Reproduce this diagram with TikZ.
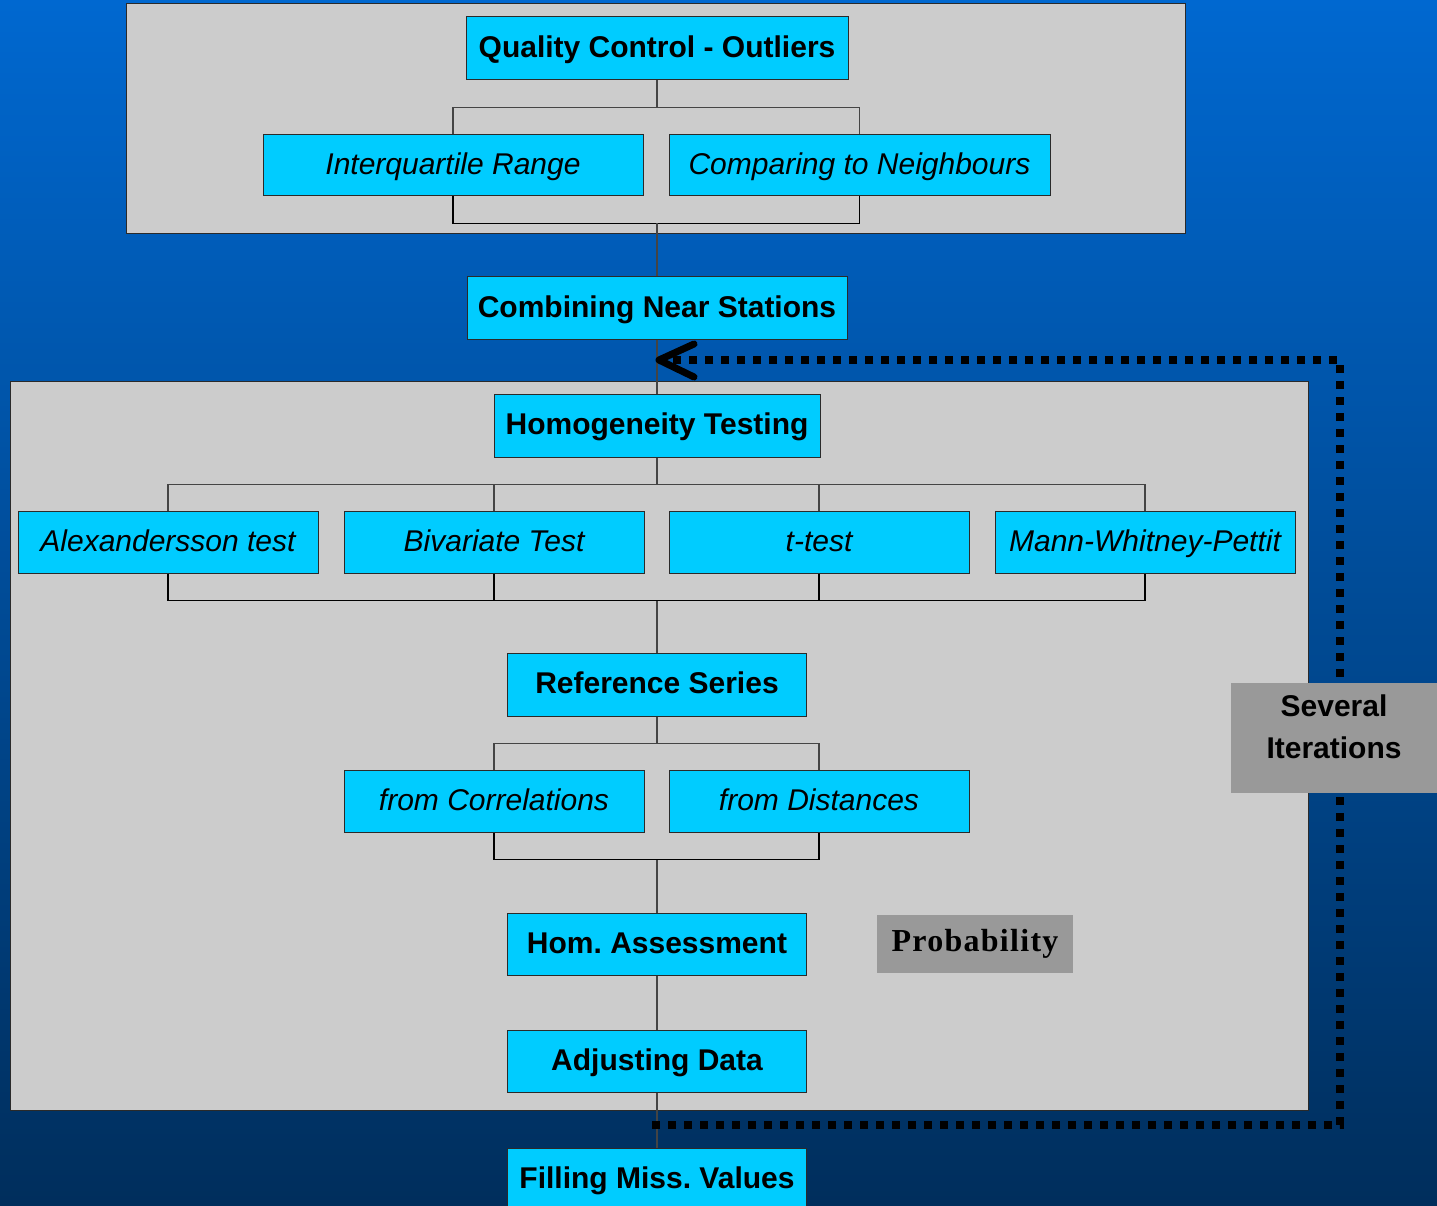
\documentclass[tikz,border=0pt]{standalone}
\usepackage{fontspec}
\setmainfont{Liberation Sans}
\newfontfamily\serifbold{Liberation Serif}
\usetikzlibrary{calc}
\frenchspacing
\definecolor{cyanbox}{HTML}{00CCFF}
\definecolor{panelgray}{HTML}{CCCCCC}
\definecolor{graybox}{HTML}{999999}
\definecolor{bgtop}{HTML}{0068D0}
\definecolor{bgbot}{HTML}{002E5C}
\definecolor{edgecol}{HTML}{2A2A2A}
\definecolor{conncol}{HTML}{444444}
\begin{document}
\frenchspacing
\begin{tikzpicture}[x=1pt,y=-1pt,
  bx/.style={draw=edgecol, line width=1pt, fill=cyanbox, inner sep=0pt, minimum height=62pt,
    text height=22pt, text depth=4pt,
    font=\fontsize{30}{34}\selectfont\bfseries},
  ibx/.style={bx, font=\fontsize{30}{34}\selectfont\itshape},
  pnl/.style={draw=edgecol, fill=panelgray, line width=1pt},
  cn/.style={draw=conncol, line width=1.2pt},
  cnb/.style={draw=black, line width=1.6pt},
  loopline/.style={draw=black, line width=8pt, dash pattern=on 8pt off 8pt},
  tipline/.style={draw=black, line width=7pt, line cap=round, line join=round},
  gb/.style={fill=graybox, inner sep=0pt}]
\useasboundingbox (0,0) rectangle (1437,1206);
\shade[top color=bgtop, bottom color=bgbot] (0,0) rectangle (1437,1206);

% panels
\draw[pnl] (126,4) rectangle (1185,234);
\draw[pnl] (10,381) rectangle (1308,1110);

% nodes
\node[bx, minimum width=382pt, minimum height=63pt] (qc) at (657,48.5) {Quality Control - Outliers};
\node[ibx, minimum width=380pt, minimum height=61pt] (iqr) at (453,165.5) {Interquartile Range};
\node[ibx, minimum width=381pt, minimum height=61pt] (cmp) at (859.5,165.5) {Comparing to Neighbours};
\node[bx, minimum width=380pt] (cns) at (657,308) {Combining Near Stations};
\node[bx, minimum width=326pt, minimum height=63pt] (hom) at (657,425.5) {Homogeneity Testing};
\node[ibx, minimum width=300pt] (alx) at (168,542) {Alexandersson test};
\node[ibx, minimum width=300pt] (biv) at (494,542) {Bivariate Test};
\node[ibx, minimum width=300pt] (tt) at (819,542) {t-test};
\node[ibx, minimum width=300pt] (mwp) at (1145,542) {Mann-Whitney-Pettit};
\node[bx, minimum width=299pt, minimum height=63pt] (ref) at (657,684.5) {Reference Series};
\node[ibx, minimum width=300pt] (fc) at (494,801) {from Correlations};
\node[ibx, minimum width=300pt] (fd) at (819,801) {from Distances};
\node[bx, minimum width=299pt] (ha) at (657,944) {Hom. Assessment};
\node[bx, minimum width=299pt] (ad) at (657,1061) {Adjusting Data};
\node[bx, minimum width=299pt] (fm) at (657,1179) {Filling Miss. Values};

% connectors: quality control
\draw[cn] (qc.south) -- ++(0,27) coordinate (qj);
\draw[cn] (iqr.north) |- (qj) -| (cmp.north);
\draw[cnb] (iqr.south) -- ++(0,27) coordinate (qb) -| (cmp.south);
\draw[cn] (cns.north) -- (cns.north |- qb);
\draw[cn] (cns.south) -- (hom.north);

% homogeneity
\draw[cn] (hom.south) -- ++(0,27) coordinate (hj);
\draw[cn] (alx.north) |- (hj) -| (mwp.north);
\draw[cn] (biv.north) -- (biv.north |- hj);
\draw[cn] (tt.north) -- (tt.north |- hj);
\draw[cnb] (alx.south) -- ++(0,27) coordinate (hb) -| (mwp.south);
\draw[cnb] (biv.south) -- (biv.south |- hb);
\draw[cnb] (tt.south) -- (tt.south |- hb);
\draw[cn] (ref.north) -- (ref.north |- hb);

% reference series
\draw[cn] (ref.south) -- ++(0,27) coordinate (rj);
\draw[cn] (fc.north) |- (rj) -| (fd.north);
\draw[cnb] (fc.south) -- ++(0,27) coordinate (rb) -| (fd.south);
\draw[cn] (ha.north) -- (ha.north |- rb);
\draw[cn] (ha.south) -- (ad.north);
\draw[cn] (ad.south) -- (fm.north);

% iteration loop
\coordinate (l0) at (652,1125);
\coordinate (l1) at (1340,1125);
\coordinate (l2) at (1340,360);
\coordinate (l3) at (666,360);
\draw[loopline] (l0) -- (l1) -- (l2) -- (l3);
\coordinate (tipa) at (694,344);
\coordinate (tip) at (659,360);
\coordinate (tipb) at (694,377);
\draw[tipline] (tipa) -- (tip) -- (tipb);

% gray labels
\node[gb, minimum width=206pt, minimum height=110pt] (sev) at (1334,738) {};
\node[inner sep=0pt, align=center, font=\fontsize{30}{42}\selectfont\bfseries] (sevtext) at (1334,727) {Several\\Iterations};
\node[gb, minimum width=196pt, minimum height=58pt,
  font=\fontsize{32}{34}\selectfont\serifbold\bfseries] (prob) at (975,944) {\addfontfeatures{LetterSpace=4}Probability};
\end{tikzpicture}
\end{document}
